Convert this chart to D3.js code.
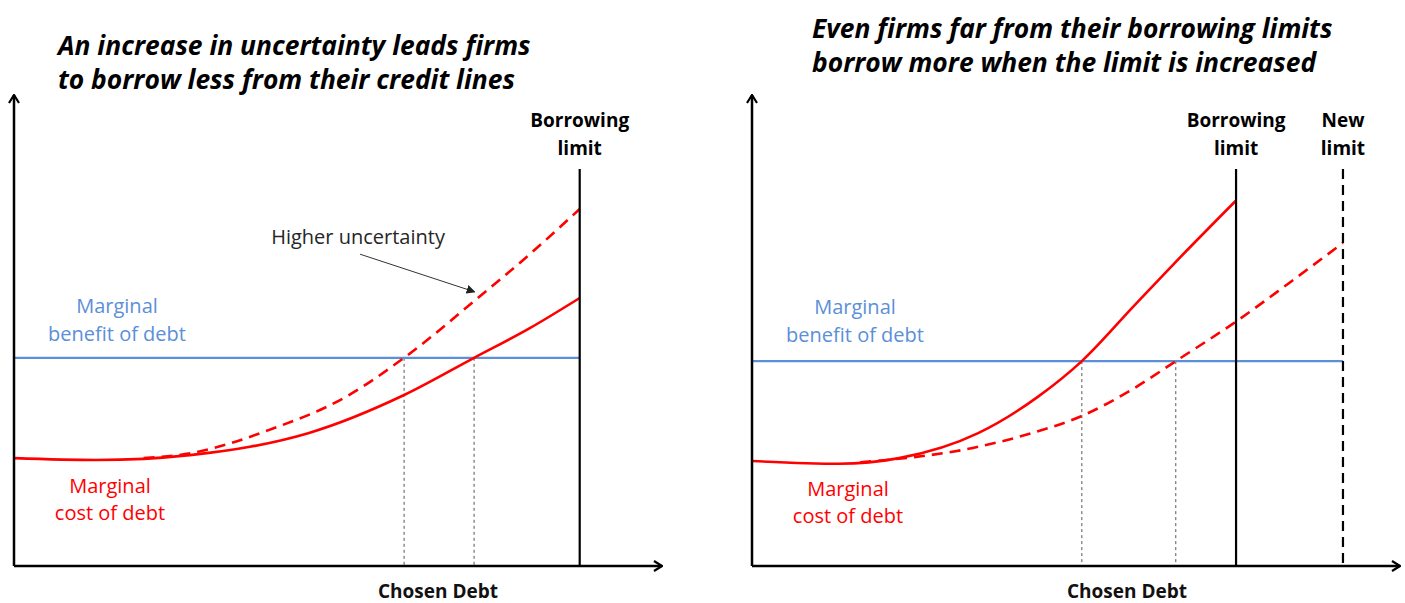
<!DOCTYPE html>
<html>
<head>
<meta charset="utf-8">
<script src="https://cdn.jsdelivr.net/npm/d3@7"></script>
<style>
  body { margin: 0; background: #fff; }
  svg { display: block; }
  text { font-family: "Open Sans", "Noto Sans", sans-serif; }
</style>
</head>
<body>
<div id="chart"></div>
<script>
// chart units: x = debt, 0..100 along the axis; y = marginal cost / benefit, 0..100 up the axis

// left panel: uncertainty
const leftTitle = ["An increase in uncertainty leads firms", "to borrow less from their credit lines"];
const leftBenefit = 44.2;
const leftLimit = 87.3;
const leftCost = [[0, 22.9], [12.7, 22.5], [27.5, 23.6], [36.4, 25.3], [45.4, 28.2], [60.2, 36.3], [71.0, 44.2], [79.6, 50.5], [87.3, 56.9]];
const leftCostHigh = [[20, 22.9], [27.5, 24.0], [39.4, 28.9], [51.2, 35.9], [60.2, 44.2], [71.5, 56.8], [79.6, 66.2], [87.3, 75.8]];
const leftChosen = [60.2, 71.0];

// right panel: higher limit
const rightTitle = ["Even firms far from their borrowing limits", "borrow more when the limit is increased"];
const rightBenefit = 43.5;
const rightLimit = 74.7;
const rightNewLimit = 91.2;
const rightCost = [[0, 22.3], [13.4, 21.7], [22.7, 22.9], [34.9, 28.2], [44.1, 35.9], [50.9, 43.5], [58.8, 55.0], [65.0, 64.0], [74.7, 77.6]];
const rightCostNew = [[16.7, 22.0], [34.9, 25.3], [43.4, 28.3], [50.8, 31.8], [58.8, 37.6], [65.4, 43.5], [74.7, 51.9], [82.9, 60.1], [91.2, 68.6]];
const rightChosen = [50.9, 65.4];

const limitTop = 84.3;
const RED = "#ff0000", BLUE = "#5b8fd8";

const svg = d3.select("#chart").append("svg")
    .attr("width", 1405)
    .attr("height", 603);

const defs = svg.append("defs");
// open chevron for the axes
defs.append("marker")
    .attr("id", "chev")
    .attr("viewBox", "0 0 12 12")
    .attr("refX", 11).attr("refY", 6)
    .attr("markerWidth", 12).attr("markerHeight", 12)
    .attr("markerUnits", "userSpaceOnUse")
    .attr("orient", "auto")
  .append("path")
    .attr("d", "M3,1 L11,6 L3,11")
    .attr("fill", "none").attr("stroke", "#000").attr("stroke-width", 2.2);
// small filled head for the annotation
defs.append("marker")
    .attr("id", "tri")
    .attr("viewBox", "0 0 10 10")
    .attr("refX", 9).attr("refY", 5)
    .attr("markerWidth", 9).attr("markerHeight", 9)
    .attr("markerUnits", "userSpaceOnUse")
    .attr("orient", "auto")
  .append("path")
    .attr("d", "M0,0 L10,5 L0,10 Z")
    .attr("fill", "#222");

function label(g, lines, cx, y0, step, opts) {
    const t = g.append("text")
        .attr("text-anchor", opts.anchor || "middle")
        .attr("font-size", opts.size)
        .attr("font-weight", opts.weight || "normal")
        .attr("font-style", opts.style || "normal")
        .attr("fill", opts.color || "#000");
    lines.forEach((s, i) => t.append("tspan").attr("x", cx).attr("y", y0 + i * step).text(s));
}

function drawPanel(p) {
    const x = d3.scaleLinear().domain([0, 100]).range(p.xRange);
    const y = d3.scaleLinear().domain([0, 100]).range([566, 95]);
    const g = svg.append("g");
    const line = d3.line().x(d => x(d[0])).y(d => y(d[1])).curve(d3.curveMonotoneX);

    // dotted drops to the chosen debt
    g.selectAll(".drop").data(p.chosen).enter().append("line")
        .attr("class", "drop")
        .attr("x1", d => x(d)).attr("x2", d => x(d))
        .attr("y1", y(p.benefit)).attr("y2", y(0))
        .attr("stroke", "#555").attr("stroke-width", 1)
        .attr("stroke-dasharray", "3,3");

    // marginal benefit
    g.append("line")
        .attr("x1", x(0)).attr("x2", x(p.benefitEnd))
        .attr("y1", y(p.benefit)).attr("y2", y(p.benefit))
        .attr("stroke", BLUE).attr("stroke-width", 2.2);

    // marginal cost curves
    g.append("path").datum(p.cost)
        .attr("d", line)
        .attr("fill", "none").attr("stroke", RED).attr("stroke-width", 2.6);
    g.append("path").datum(p.costDashed)
        .attr("d", line)
        .attr("fill", "none").attr("stroke", RED).attr("stroke-width", 2.6)
        .attr("stroke-dasharray", "11,7");

    // borrowing limits
    p.limits.forEach(l => {
        g.append("line")
            .attr("x1", x(l.value)).attr("x2", x(l.value))
            .attr("y1", y(limitTop)).attr("y2", y(0))
            .attr("stroke", "#000").attr("stroke-width", 2.2)
            .attr("stroke-dasharray", l.dashed ? "10,6" : null);
        label(g, l.text, x(l.value), 127, 28, {size: 19, weight: "bold"});
    });

    // axes
    g.append("line")
        .attr("x1", x(0)).attr("x2", x(0))
        .attr("y1", y(0)).attr("y2", y(100))
        .attr("stroke", "#000").attr("stroke-width", 2.5)
        .attr("marker-end", "url(#chev)");
    g.append("line")
        .attr("x1", x(0)).attr("x2", x(100))
        .attr("y1", y(0)).attr("y2", y(0))
        .attr("stroke", "#000").attr("stroke-width", 2.5)
        .attr("marker-end", "url(#chev)");

    label(g, ["Chosen Debt"], p.chosenLabelX, 598, 0, {size: 19, weight: "bold", color: "#111"});
    label(g, ["Marginal", "benefit of debt"], p.benefitLabel[0], p.benefitLabel[1], 28, {size: 20, color: BLUE});
    label(g, ["Marginal", "cost of debt"], p.costLabel[0], p.costLabel[1], 27, {size: 20, color: RED});
    label(g, p.title, p.titleX, p.titleY, 34, {size: 26.4, weight: "bold", style: "italic", anchor: "start"});

    return {x, y, g};
}

const left = drawPanel({
    xRange: [14, 662],
    title: leftTitle, titleX: 58, titleY: 55,
    benefit: leftBenefit, benefitEnd: leftLimit,
    cost: leftCost, costDashed: leftCostHigh,
    chosen: leftChosen,
    limits: [{value: leftLimit, text: ["Borrowing", "limit"]}],
    chosenLabelX: 438,
    benefitLabel: [117, 313],
    costLabel: [110, 493]
});

// annotation on the left panel
left.g.append("text")
    .attr("x", left.x(53.1)).attr("y", 244)
    .attr("text-anchor", "middle")
    .attr("font-size", 20)
    .attr("fill", "#262626")
    .text("Higher uncertainty");
left.g.append("line")
    .attr("x1", left.x(53.4)).attr("y1", left.y(66.2))
    .attr("x2", left.x(71.1)).attr("y2", left.y(58.2))
    .attr("stroke", "#333").attr("stroke-width", 1)
    .attr("marker-end", "url(#tri)");

drawPanel({
    xRange: [752, 1400],
    title: rightTitle, titleX: 812, titleY: 38,
    benefit: rightBenefit, benefitEnd: rightNewLimit,
    cost: rightCost, costDashed: rightCostNew,
    chosen: rightChosen,
    limits: [{value: rightLimit, text: ["Borrowing", "limit"]},
             {value: rightNewLimit, text: ["New", "limit"], dashed: true}],
    chosenLabelX: 1127,
    benefitLabel: [855, 314],
    costLabel: [848, 496]
});
</script>
</body>
</html>
